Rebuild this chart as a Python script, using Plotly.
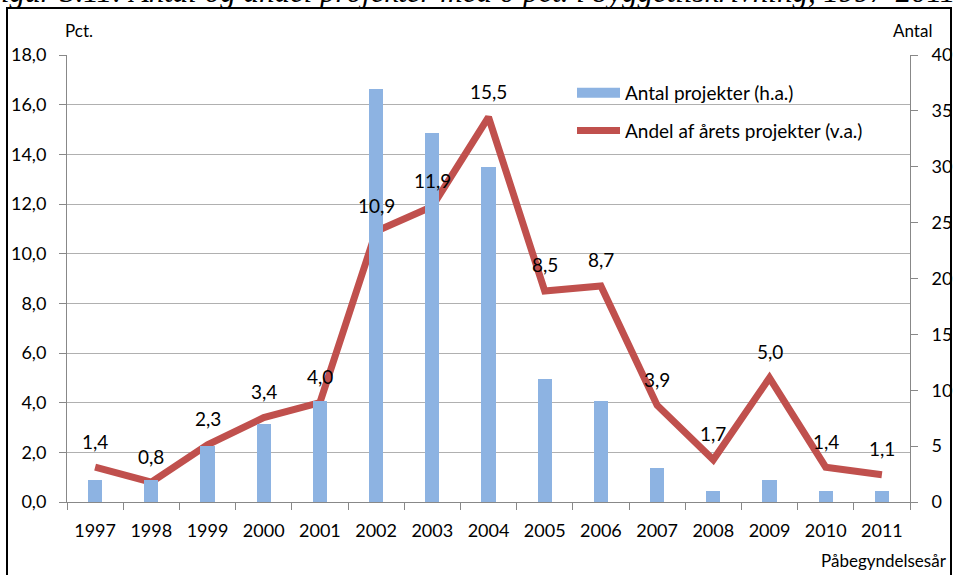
import plotly.graph_objects as go

years = ["1997", "1998", "1999", "2000", "2001", "2002", "2003", "2004",
         "2005", "2006", "2007", "2008", "2009", "2010", "2011"]
antal = [2, 2, 5, 7, 9, 37, 33, 30, 11, 9, 3, 1, 2, 1, 1]
andel = [1.4, 0.8, 2.3, 3.4, 4.0, 10.9, 11.9, 15.5, 8.5, 8.7, 3.9, 1.7, 5.0, 1.4, 1.1]
andel_labels = [f"{v:.1f}".replace(".", ",") for v in andel]

W, H = 954, 575
L, R, T, B = 67, 44, 55, 73
pw, ph = W - L - R, H - T - B

def px(x):
    return (x - L) / pw

def py(y):
    return (H - B - y) / ph

FONT = "Lato, Carlito, Calibri, sans-serif"
BLUE = "#8db3e2"
RED = "#c0504d"

fig = go.Figure()
fig.add_trace(go.Bar(
    x=years, y=antal, name="Antal projekter (h.a.)", yaxis="y2",
    marker=dict(color=BLUE, line=dict(width=0)), width=0.25, showlegend=False,
))
fig.add_trace(go.Scatter(
    x=years, y=andel, name="Andel af årets projekter (v.a.)", yaxis="y",
    mode="lines", line=dict(color=RED, width=7), showlegend=False,
))
# legend entries (Excel-style wide symbols)
fig.add_trace(go.Scatter(
    x=[None], y=[None], name="Antal projekter (h.a.)", mode="lines",
    line=dict(color=BLUE, width=10), legendgroup="a", legendrank=1,
))
fig.add_trace(go.Scatter(
    x=[None], y=[None], name="Andel af årets projekter (v.a.)", mode="lines",
    line=dict(color=RED, width=7), legendgroup="b", legendrank=2,
))

annotations = []
for i, (v, t) in enumerate(zip(andel, andel_labels)):
    annotations.append(dict(x=i, y=v, xref="x", yref="y", text=t, showarrow=False,
                            xanchor="center", yanchor="middle", yshift=26,
                            font=dict(size=19, color="#000", family=FONT)))

annotations += [
    dict(x=px(79), y=py(30), xref="paper", yref="paper", text="Pct.", showarrow=False,
         xanchor="center", yanchor="middle", font=dict(size=17, family=FONT, color="#000")),
    dict(x=px(912), y=py(30), xref="paper", yref="paper", text="Antal", showarrow=False,
         xanchor="center", yanchor="middle", font=dict(size=17, family=FONT, color="#000")),
    dict(x=px(949), y=py(560), xref="paper", yref="paper", text="Påbegyndelsesår",
         showarrow=False, xanchor="right", yanchor="middle",
         font=dict(size=17, family=FONT, color="#000")),
    dict(x=px(468), y=py(-9), xref="paper", yref="paper",
         text="<i>Figur 3.11: Antal og andel projekter med 0 pct. i byggetilskrivning, 1997-2011</i>",
         showarrow=False, xanchor="center", yanchor="middle",
         font=dict(size=31, family="Liberation Serif, serif", color="#000")),
]

shapes = [
    dict(type="rect", xref="paper", yref="paper", x0=px(7), x1=px(951), y0=py(590), y1=py(8),
         line=dict(color="#000", width=2), fillcolor="rgba(0,0,0,0)", layer="above"),
]

fig.update_layout(
    width=W, height=H,
    margin=dict(l=L, r=R, t=T, b=B, autoexpand=False),
    paper_bgcolor="white", plot_bgcolor="white",
    font=dict(family=FONT, size=18, color="#000"),
    separators=",.",
    showlegend=True,
    legend=dict(x=px(572), y=py(74), xanchor="left", yanchor="top",
                bgcolor="rgba(0,0,0,0)", font=dict(size=19, family=FONT),
                tracegroupgap=10, traceorder="grouped", itemwidth=43),
    xaxis=dict(type="category", showline=True, linecolor="#888", linewidth=1,
               ticks="outside", tickson="boundaries", ticklen=7, tickcolor="#888",
               showgrid=False, ticklabelstandoff=12, tickfont=dict(size=18),
               range=[-0.5, 14.5]),
    yaxis=dict(range=[0, 18], dtick=2, tickformat=".1f", showline=True, linecolor="#888",
               ticks="outside", ticklen=7, tickcolor="#888", showgrid=True,
               gridcolor="#b0b0b0", gridwidth=1, zeroline=False, tickfont=dict(size=18),
               ticklabelstandoff=9),
    yaxis2=dict(range=[0, 40], dtick=5, overlaying="y", side="right", showline=True,
                linecolor="#888", ticks="outside", ticklen=7, tickcolor="#888",
                showgrid=False, zeroline=False, tickfont=dict(size=18), ticklabelstandoff=10),
    annotations=annotations,
    shapes=shapes,
    bargap=0,
)

fig.write_html("out.html", config={"displayModeBar": False},
               post_script="document.body.style.margin='0px';")
